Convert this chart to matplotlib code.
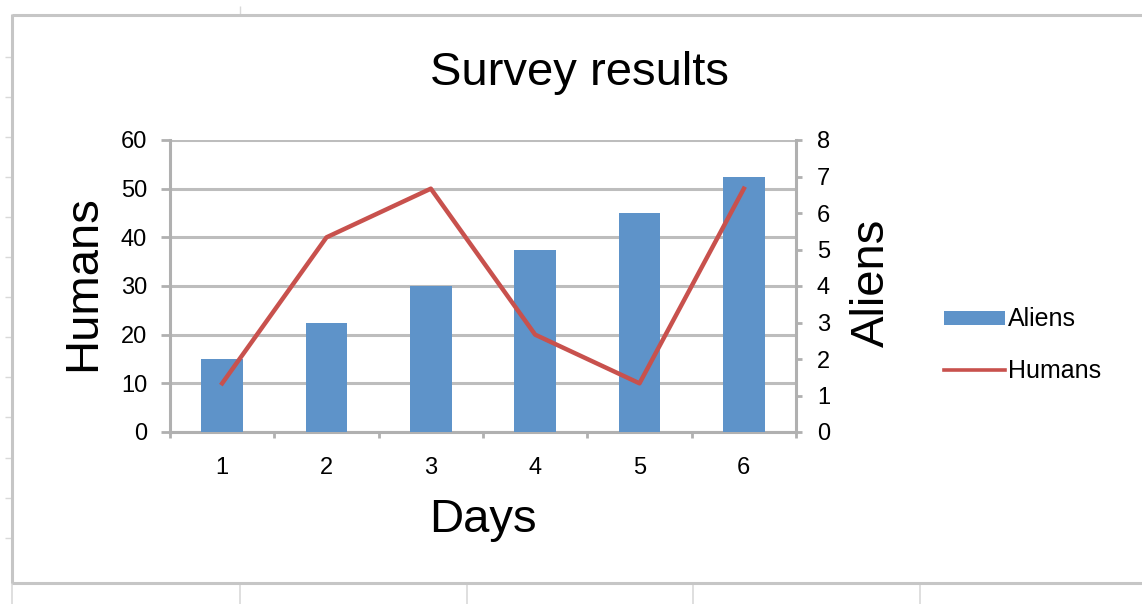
import numpy as np
import matplotlib
matplotlib.use("Agg")
import matplotlib.pyplot as plt
from matplotlib.lines import Line2D

plt.rcParams['font.family'] = ['Liberation Sans', 'DejaVu Sans']

# ---- data ----
days = [1, 2, 3, 4, 5, 6]
aliens = [2, 3, 4, 5, 6, 7]
humans = [10, 40, 50, 20, 10, 50]
humans_ticks = [0, 10, 20, 30, 40, 50, 60]
aliens_ticks = [0, 1, 2, 3, 4, 5, 6, 7, 8]

W, H = 1142, 604
BLUE = "#5E93C9"
RED = "#C8514D"
GRID = "#BDBDBD"
AX = "#B0B0B0"

fig = plt.figure(figsize=(W / 100, H / 100), dpi=100)
fig.patch.set_facecolor("white")


def px_line(x0, y0, x1, y1, color, lw):
    fig.add_artist(Line2D([x0 / W, x1 / W], [1 - y0 / H, 1 - y1 / H],
                          transform=fig.transFigure, color=color, lw=lw,
                          solid_capstyle='butt'))


# spreadsheet background cells & chart border
cell = "#D9D9D9"
for yy in [57, 97, 137, 177, 217, 257, 297, 337, 377, 417, 458, 498, 538]:
    px_line(5, yy, 12, yy, cell, 1.0)
px_line(240, 6, 240, 15, cell, 1.0)
for xx in [240, 467, 693, 920]:
    px_line(xx, 583, xx, 604, cell, 1.2)
px_line(12, 583, 12, 604, cell, 1.2)
border = "#C6C6C6"
px_line(12, 15, W, 15, border, 2.2)
px_line(12, 14, 12, 583, border, 2.2)
px_line(12, 583, W, 583, border, 2.2)

# ---- axes ----
rect = [170 / W, 1 - 432 / H, 626 / W, 292 / H]
ax = fig.add_axes(rect)
x = np.arange(len(days))
ax.set_xlim(-0.5, len(days) - 0.5)
ax.set_ylim(humans_ticks[0], humans_ticks[-1])
ax.set_yticks(humans_ticks)
ax.yaxis.grid(True, color=GRID, lw=2.2)
ax.set_axisbelow(True)
ax.set_xticks(x)
ax.set_xticklabels([str(d) for d in days])
ax.set_xticks(np.arange(-0.5, len(days), 1.0), minor=True)
ax.tick_params(axis='x', which='major', length=0, pad=18, labelsize=17)
ax.tick_params(axis='x', which='minor', length=4.5, width=2, color=AX, direction='out')
ax.tick_params(axis='y', which='major', length=6.5, width=2, color=AX,
               direction='out', pad=10, labelsize=17)
for s in ['top', 'right']:
    ax.spines[s].set_visible(False)
for s in ['left', 'bottom']:
    ax.spines[s].set_color(AX)
    ax.spines[s].set_linewidth(2.2)

ax.set_ylabel("Humans", fontsize=34)
ax.yaxis.label.set(va='center', ha='center', rotation_mode='default')
ax.yaxis.set_label_coords((83 - 170) / 626, 0.51)
ax.set_xlabel("Days", fontsize=34)
ax.xaxis.label.set(va='center', ha='center')
ax.xaxis.set_label_coords(0.5, (432 - 520) / 292)

# Aliens (bars) on the right axis
ax_al = ax.twinx()
bars = ax_al.bar(x, aliens, width=0.4, color=BLUE, label="Aliens", zorder=2)
ax_al.set_ylim(aliens_ticks[0], aliens_ticks[-1])
ax_al.set_yticks(aliens_ticks)
ax_al.tick_params(axis='y', length=4, width=2, color=AX, direction='out',
                  pad=11, labelsize=17)
for s in ['top', 'left', 'bottom']:
    ax_al.spines[s].set_visible(False)
ax_al.spines['right'].set_color(AX)
ax_al.spines['right'].set_linewidth(2.2)
ax_al.set_ylabel("Aliens", fontsize=34)
ax_al.yaxis.label.set(va='center', ha='center', rotation=90, rotation_mode='default')
ax_al.yaxis.set_label_coords((872 - 170) / 626, 0.51)

# Humans (line) on the left scale, drawn above bars
ax_hu = fig.add_axes(rect, sharex=ax, sharey=ax, frameon=False)
ax_hu.patch.set_visible(False)
line, = ax_hu.plot(x, humans, color=RED, lw=3.2, label="Humans")
ax_hu.xaxis.set_visible(False)
ax_hu.yaxis.set_visible(False)

# title
fig.text(579 / W, 1 - 73 / H, "Survey results", fontsize=34, ha='center', va='center')

# legend
leg = fig.legend([bars, line], ["Aliens", "Humans"], loc='center left',
                 bbox_to_anchor=(944 / W, 1 - 345 / H), frameon=False,
                 fontsize=18, handlelength=2.45, handleheight=0.48,
                 handletextpad=0.12, labelspacing=1.08, borderpad=0,
                 borderaxespad=0)
leg.get_lines()[0].set_linewidth(2.6) if leg.get_lines() else None

fig.savefig("out.png", dpi=100, facecolor="white")
